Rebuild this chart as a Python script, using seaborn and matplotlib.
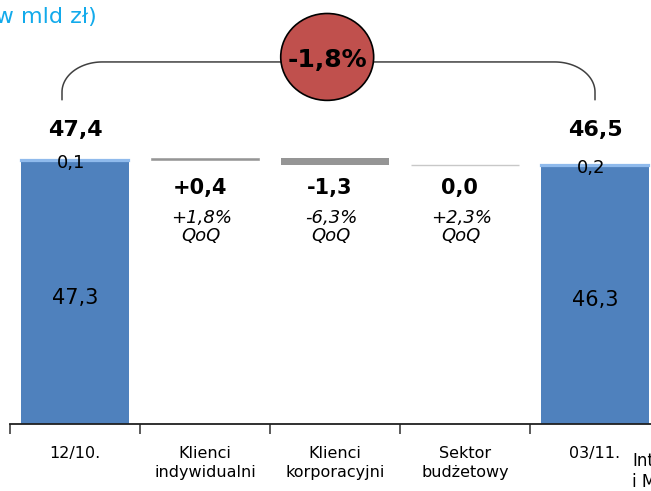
import numpy as np
import pandas as pd
import seaborn as sns
import matplotlib.pyplot as plt
from matplotlib.patches import Ellipse

# ========= data (w mld zł) =========
categories = ["12/10.", "Klienci\nindywidualni", "Klienci\nkorporacyjni",
              "Sektor\nbudżetowy", "03/11."]
base_parts = [47.3, 0.0, 0.0, 0.0, 46.3]      # dark blue part of end bars
other_parts = [0.1, 0.2]                       # light blue top of 12/10. and 03/11.
totals = [47.4, 46.5]
deltas = [0.4, -1.3, 0.0]
qoq = ["+1,8%", "-6,3%", "+2,3%"]
total_change = "-1,8%"
unit_label = "(w mld zł)"
side_note = "Int\ni M"


def pl(v, sign=False):
    s = f"{v:+.1f}" if sign else f"{v:.1f}"
    return s.replace(".", ",")


sns.set_style("white")
plt.rcParams["font.family"] = ["DejaVu Sans"]
plt.rcParams["text.color"] = "black"
plt.rcParams["xtick.labelcolor"] = "black"

fig = plt.figure(figsize=(6.51, 4.91), dpi=100)
# axes runs past the right edge, like the cropped slide
ax = fig.add_axes([10 / 651, 67 / 491, 780 / 651, 424 / 491])

df = pd.DataFrame({"cat": categories, "val": base_parts})
sns.barplot(data=df, x="cat", y="val", hue="cat", order=categories,
            palette=["#4F81BD"] * len(categories), legend=False,
            width=0.83, linewidth=0, saturation=1, ax=ax)

ends = [0, len(categories) - 1]
dark_ends = [base_parts[i] for i in ends]

# light blue top segments
ax.bar(ends, other_parts, bottom=dark_ends, width=0.83, color="#8FBAEC",
       edgecolor="#8FBAEC", linewidth=1.6, zorder=3)

# floating change bars
levels = np.concatenate([[totals[0]], totals[0] + np.cumsum(deltas)])
seg_pos = [1, 2, 3]
seg_colors = ["#959595", "#959595", "#C8C8C8"]
ax.bar(seg_pos, deltas, bottom=levels[:-1], width=0.83, color=seg_colors,
       edgecolor=seg_colors, linewidth=[0.4, 0, 1.0], zorder=3)

# labels on end bars
top_y = max(totals) + 5.3
for i, tot, dark, extra in zip(ends, totals, dark_ends, other_parts):
    ax.text(i, top_y, pl(tot), ha="center", va="center",
            fontsize=16, fontweight="bold")
    ax.text(i - 0.03, tot - 0.5, pl(extra), ha="center", va="center",
            fontsize=13, zorder=5)
    ax.text(i, dark * 0.48, pl(dark), ha="center", va="center",
            fontsize=15, zorder=5)

# labels under floating bars
for p, d, q in zip(seg_pos, deltas, qoq):
    lab = pl(d, sign=True) if d != 0 else pl(d)
    ax.text(p - 0.04, totals[0] - 5.0, lab, ha="center", va="center",
            fontsize=15, fontweight="bold")
    ax.text(p - 0.03, totals[0] - 12.0, q + "\nQoQ", ha="center",
            va="center", fontsize=13, style="italic", linespacing=1.0)

# bracket with total change
x0, x1 = -0.1, 4.0
y_end, y_h = 58.2, 65.0
rx, ry = 0.31, 5.4
t = np.linspace(0, np.pi / 2, 30)
bx = np.concatenate([[x0], x0 + rx - rx * np.cos(t),
                     x1 - rx + rx * np.sin(t), [x1]])
by = np.concatenate([[y_end], y_h - ry + ry * np.sin(t),
                     y_h - ry + ry * np.cos(t), [y_end]])
ax.plot(bx, by, color="#404040", lw=1.1, clip_on=False, zorder=4)

circle = Ellipse((1.94, 65.9), width=0.715, height=15.6, facecolor="#C0504D",
                 edgecolor="black", lw=1.2, zorder=6, clip_on=False)
ax.add_patch(circle)
ax.text(1.94, 65.4, total_change, ha="center", va="center", fontsize=18,
        fontweight="bold", zorder=7)

# axes styling
ax.set_xlim(-0.5, len(categories) + 0.5)
ax.set_ylim(0, 424 / 5.57)
ax.set_xlabel("")
ax.set_ylabel("")
ax.set_yticks([])
ax.set_xticks(range(len(categories)))
ax.set_xticklabels(categories, fontsize=11.5, linespacing=1.35)
ax.set_xticks(np.arange(-0.5, len(categories) + 1, 1.0), minor=True)
ax.tick_params(axis="x", which="major", length=0, pad=16)
ax.tick_params(axis="x", which="minor", bottom=True, length=7, width=1.2,
               color="#404040", direction="out")
for side in ["left", "top", "right"]:
    ax.spines[side].set_visible(False)
ax.spines["bottom"].set_color("#202020")
ax.spines["bottom"].set_linewidth(1.3)

fig.text(97 / 651, 1 - 17 / 491, unit_label, ha="right", va="center",
         fontsize=16, color="#12AAEB")
fig.text(632 / 651, 1 - 452 / 491, side_note, ha="left", va="top",
         fontsize=12, linespacing=1.2)

fig.savefig("out.png", dpi=100)
